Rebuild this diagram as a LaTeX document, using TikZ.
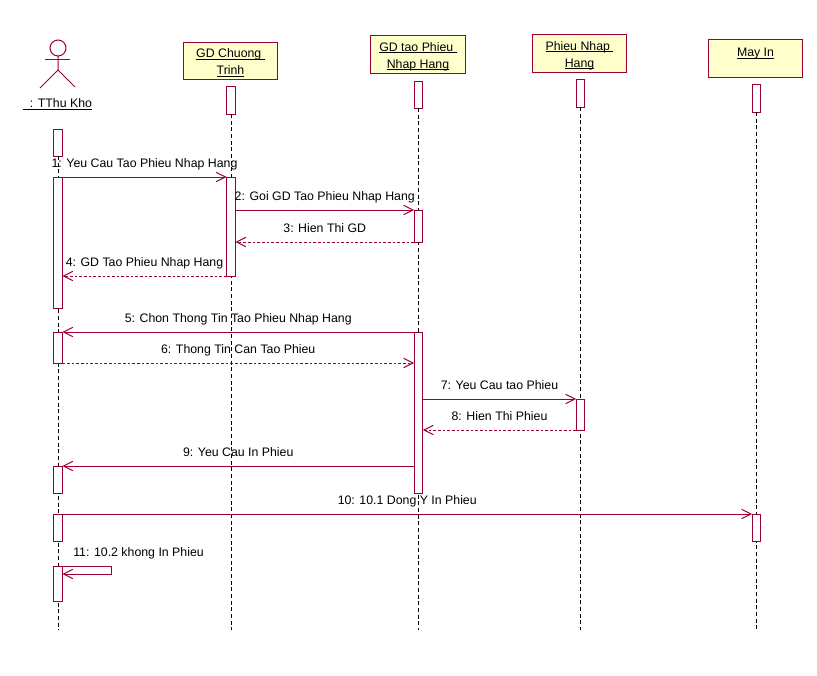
\documentclass[tikz,border=0pt]{standalone}
\usepackage{fontspec}
\setmainfont{Liberation Sans}
\usetikzlibrary{arrows.meta}
\definecolor{umlline}{HTML}{990033}
\definecolor{umlfill}{HTML}{FFFFCC}
\newsavebox{\ulnbox}
\newcommand{\uln}[1]{\sbox{\ulnbox}{#1}\rlap{\rule[-1.6pt]{\wd\ulnbox}{0.7pt}}\usebox{\ulnbox}}
\newcommand{\topgap}{\rule{0pt}{9.6pt}}
\tikzset{
  head/.style={draw=umlline, fill=umlfill, line width=0.75pt, minimum width=71pt, minimum height=28pt, inner sep=0pt, outer sep=0pt, align=center, font=\fontsize{9.25pt}{12.7pt}\selectfont},
  bar/.style={draw=umlline, fill=white, line width=0.75pt, minimum width=6.6pt, minimum height=#1*0.75pt, inner sep=0pt, outer sep=0pt},
  life/.style={black, densely dashed, line width=0.75pt},
  msg/.style={umlline, line width=0.75pt, -{Straight Barb[length=7pt,width=7pt]}},
  back/.style={msg, dash pattern=on 2pt off 1.5pt},
  lbl/.style={midway, anchor=base, yshift=7.5pt, text=black, inner sep=0pt, font=\fontsize{9.25pt}{11pt}\selectfont}
}
\begin{document}
\begin{tikzpicture}[x=0.75pt, y=-0.75pt]
\useasboundingbox (0,0) rectangle (817,675);

% actor
\node[draw=umlline, line width=0.75pt, circle, minimum size=12pt, inner sep=0pt, outer sep=0pt] (actorhead) at (58,48) {};
\coordinate (actorhip) at (58,70);
\coordinate (armL) at (45,59);
\coordinate (armR) at (70,59);
\coordinate (legL) at (40,88);
\coordinate (legR) at (75,87);
\draw[umlline, line width=0.75pt] (actorhead) -- (actorhip) -- (legL);
\draw[umlline, line width=0.75pt] (actorhip) -- (legR);
\draw[umlline, line width=0.75pt] (armL) -- (armR);
\node[font=\fontsize{9.25pt}{11pt}\selectfont, inner sep=0pt] (actorname) at (57.5,104.5) {\uln{\ \ : TThu Kho}};

% objects
\node[head] (gdct) at (230.5,61) {\topgap\uln{GD Chuong\ }\\\uln{Trinh}};
\node[head] (gdtao) at (418,54.5) {\topgap\uln{GD tao Phieu\ }\\\uln{Nhap Hang}};
\node[head] (phieu) at (579.5,53.5) {\topgap\uln{Phieu Nhap\ }\\\uln{Hang}};
\node[head] (mayin) at (755.5,58.5) {\topgap\uln{May In}\\ ~};

% stubs under the objects
\node[bar=27] (a1) at (58,142.5) {};
\node[bar=28] (b0) at (231,100) {};
\node[bar=27] (c0) at (418.5,94.5) {};
\node[bar=28] (d0) at (580.5,93) {};
\node[bar=28] (e0) at (756.5,98) {};

% lifelines
\coordinate (endA) at (58,630);
\coordinate (endB) at (231,630);
\coordinate (endC) at (418.5,630);
\coordinate (endD) at (580.5,630);
\coordinate (endE) at (756.5,630);
\draw[life] (a1.south) -- (endA);
\draw[life] (b0.south) -- (endB);
\draw[life] (c0.south) -- (endC);
\draw[life] (d0.south) -- (endD);
\draw[life] (e0.south) -- (endE);

% activations
\node[bar=131] (a2) at (58,242.5) {};
\node[bar=31] (a3) at (58,347.5) {};
\node[bar=27] (a4) at (58,479.5) {};
\node[bar=27] (a5) at (58,527.5) {};
\node[bar=35] (a6) at (58,583.5) {};
\node[bar=99] (b1) at (231,226.5) {};
\node[bar=32] (c1) at (418.5,226) {};
\node[bar=161] (c2) at (418.5,412.5) {};
\node[bar=31] (d1) at (580.5,414.5) {};
\node[bar=27] (e1) at (756.5,527.5) {};

% messages
\draw[msg] (a2.north east) -- node[lbl] {1: Yeu Cau Tao Phieu Nhap Hang} (b1.north west);
\draw[msg] (b1.east |- c1.north) -- node[lbl] {2: Goi GD Tao Phieu Nhap Hang} (c1.north west);
\draw[back] (c1.south west) -- node[lbl] {3: Hien Thi GD} (b1.east |- c1.south);
\draw[back] (b1.south west) -- node[lbl] {4: GD Tao Phieu Nhap Hang} (a2.east |- b1.south);
\draw[msg] (c2.north west) -- node[lbl] {5: Chon Thong Tin Tao Phieu Nhap Hang} (a3.north east);
\draw[back] (a3.south east) -- node[lbl] {6: Thong Tin Can Tao Phieu} (c2.west |- a3.south);
\draw[msg] (c2.east |- d1.north) -- node[lbl] {7: Yeu Cau tao Phieu} (d1.north west);
\draw[back] (d1.south west) -- node[lbl] {8: Hien Thi Phieu} (c2.east |- d1.south);
\draw[msg] (c2.west |- a4.north) -- node[lbl] {9: Yeu Cau In Phieu} (a4.north east);
\draw[msg] (a5.north east) -- node[lbl] {10: 10.1 Dong Y In Phieu} (e1.north west);

% self call
\coordinate (loopT) at (111,566);
\coordinate (loopB) at (111,574);
\draw[msg] (a6.north east) -- (loopT) -- (loopB) -- (a6.east |- loopB);
\node[anchor=base west, inner sep=0pt, font=\fontsize{9.25pt}{11pt}\selectfont] (selflbl) at (73,556) {11: 10.2 khong In Phieu};
\end{tikzpicture}
\end{document}
